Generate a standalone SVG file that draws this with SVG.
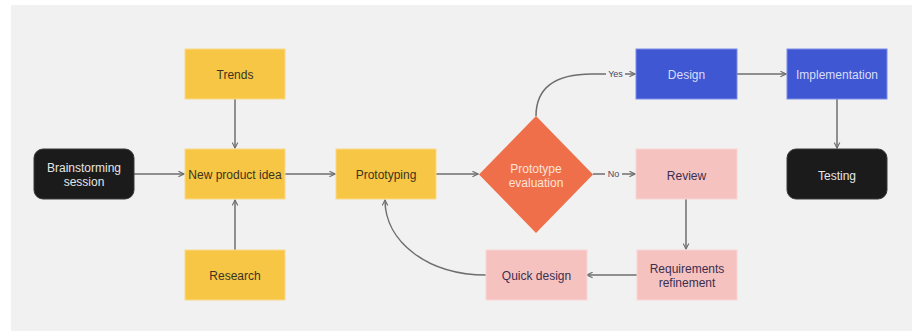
<svg xmlns="http://www.w3.org/2000/svg" width="912" height="331" viewBox="0 0 912 331">
  <style>
    text { font-family: "Liberation Sans", Arial, sans-serif; font-size: 12px; text-anchor: middle; dominant-baseline: central; }
    .yellow { fill: #F7C645; stroke: #FAD98A; stroke-width: 1; }
    .blue { fill: #3F57D3; stroke: #7C8EE6; stroke-width: 1; }
    .pink { fill: #F6C2C0; stroke: #F9D6D4; stroke-width: 1; }
    .dark { fill: #1B1B1B; stroke: #3a3a3a; stroke-width: 1; }
    .orange { fill: #EF6F4A; }
    .t-yellow { fill: #3A3420; }
    .t-blue { fill: #D9DEF7; }
    .t-pink { fill: #3A2F4F; }
    .t-dark { fill: #E6E6E6; }
    .t-orange { fill: #FDE3D8; }
    .edge { fill: none; stroke: #6E6E6E; stroke-width: 1.5; marker-end: url(#arrow); }
    .label { font-size: 9px; fill: #4A4868; }
  </style>
  <defs>
    <marker id="arrow" viewBox="0 0 10 10" refX="9" refY="5" markerWidth="7" markerHeight="7" markerUnits="userSpaceOnUse" orient="auto">
      <path d="M1,1 L9,5 L1,9" fill="none" stroke="#6E6E6E" stroke-width="1.6"/>
    </marker>
  </defs>

  <!-- canvas -->
  <rect x="11" y="5" width="901" height="326" fill="#F1F1F1"/>

  <!-- connectors -->
  <g id="connectors">
    <path class="edge" d="M134,174 L184,174"/>
    <path class="edge" d="M235,99 L235,148"/>
    <path class="edge" d="M235,250 L235,200"/>
    <path class="edge" d="M285,174 L335,174"/>
    <path class="edge" d="M436,174 L478,174"/>
    <path class="edge" d="M536,116 C536,90 552,74 592,74 L635,74"/>
    <path class="edge" d="M593,174 L635,174"/>
    <path class="edge" d="M737,74 L786,74"/>
    <path class="edge" d="M837,99 L837,148"/>
    <path class="edge" d="M686,199 L686,249"/>
    <path class="edge" d="M637,275 L587,275"/>
    <path class="edge" d="M486,275 C428,275 385,242 385,200"/>
    <!-- label backgrounds break the lines -->
    <rect x="606" y="68" width="19" height="12" fill="#F1F1F1"/>
    <text class="label" x="615.5" y="74">Yes</text>
    <rect x="605" y="168" width="17" height="12" fill="#F1F1F1"/>
    <text class="label" x="613.5" y="174">No</text>
  </g>

  <g id="brainstorming">
    <rect class="dark" x="34" y="149" width="100" height="50" rx="9"/>
    <text class="t-dark" x="84" y="168">Brainstorming</text>
    <text class="t-dark" x="84" y="182">session</text>
  </g>
  <g id="trends">
    <rect class="yellow" x="185" y="49" width="100" height="50"/>
    <text class="t-yellow" x="235" y="75">Trends</text>
  </g>
  <g id="new-product-idea">
    <rect class="yellow" x="185" y="149" width="100" height="50"/>
    <text class="t-yellow" x="235" y="175">New product idea</text>
  </g>
  <g id="research">
    <rect class="yellow" x="185" y="250" width="100" height="50"/>
    <text class="t-yellow" x="235" y="276">Research</text>
  </g>
  <g id="prototyping">
    <rect class="yellow" x="336" y="149" width="100" height="50"/>
    <text class="t-yellow" x="386" y="175">Prototyping</text>
  </g>
  <g id="prototype-evaluation">
    <polygon class="orange" points="536,116 593,174.5 536,233 479,174.5"/>
    <text class="t-orange" x="536" y="169">Prototype</text>
    <text class="t-orange" x="536" y="183">evaluation</text>
  </g>
  <g id="design">
    <rect class="blue" x="636" y="49" width="101" height="50"/>
    <text class="t-blue" x="686.5" y="75">Design</text>
  </g>
  <g id="implementation">
    <rect class="blue" x="787" y="49" width="100" height="50"/>
    <text class="t-blue" x="837" y="75">Implementation</text>
  </g>
  <g id="review">
    <rect class="pink" x="636" y="149" width="101" height="50"/>
    <text class="t-pink" x="686.5" y="176">Review</text>
  </g>
  <g id="testing">
    <rect class="dark" x="787" y="149" width="100" height="50" rx="9"/>
    <text class="t-dark" x="837" y="176">Testing</text>
  </g>
  <g id="quick-design">
    <rect class="pink" x="486" y="250" width="101" height="50"/>
    <text class="t-pink" x="536.5" y="276">Quick design</text>
  </g>
  <g id="requirements-refinement">
    <rect class="pink" x="637" y="250" width="100" height="50"/>
    <text class="t-pink" x="687" y="269">Requirements</text>
    <text class="t-pink" x="687" y="283">refinement</text>
  </g>
</svg>
